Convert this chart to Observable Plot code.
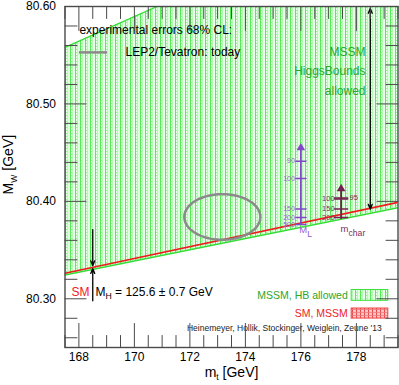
<!DOCTYPE html>
<html><head><meta charset="utf-8">
<script src="https://cdn.jsdelivr.net/npm/d3@7"></script>
<script src="https://cdn.jsdelivr.net/npm/@observablehq/plot@0.6"></script>
<style>
body{margin:0;background:#fff;}
#chart svg{display:block;}
</style></head><body><div id="chart"></div>
<script>
// ---- axes ----
const mtDomain = [167.5, 179.5];
const mwDomain = [80.25, 80.60];
const mtMajor = [168, 170, 172, 174, 176, 178];
const mtMinor = [167.5,168,168.5,169,169.5,170,170.5,171,171.5,172,172.5,173,173.5,174,174.5,175,175.5,176,176.5,177,177.5,178,178.5,179,179.5];
const mwMajor = [80.30, 80.40, 80.50, 80.60];
const mwMinor = [80.26,80.28,80.30,80.32,80.34,80.36,80.38,80.40,80.42,80.44,80.46,80.48,80.50,80.52,80.54,80.56,80.58,80.60];
const xTitle = ["m_{t} [GeV]"], xTitlePos = [173.5, 80.2246];
const yTitle = ["M_{W} [GeV]"], yTitlePos = [165.48, 80.4377];

// ---- bands (values at the two edges of the mt range) ----
const bandMt    = [167.5, 179.5];
const mssmUpper = [80.558, 80.710];
const mssmLower = [80.3245, 80.3935];
const smMw      = [80.3262, 80.3990];

// ---- Tevatron/LEP2 68% CL ellipse ----
const expCenter = {mt: 173.17, mw: 80.384};
const expRadius = {mt: 1.37, mw: 0.0234};

// ---- arrows ----
const hbArrowMt = 178.5, hbArrowMw = [80.50, 80.598, 80.392];      // mid, top, bottom
const smArrowMt = 168.5, smArrowDown = [80.371, 80.334], smArrowUp = [80.298, 80.331];

// ---- M_L scale (purple) ----
const mLMt = 176.0, mLLine = [80.376, 80.455];
const mLLabels = ["90", "100", "150", "200", "500"];
const mLMw = [80.4412, 80.4234, 80.3921, 80.3835, 80.3762];

// ---- m_char scale (dark red) ----
const mcMt = 177.45, mcLine = [80.3814, 80.413];
const mcLabelsLeft = ["100", "150", "200"];
const mcMwLeft = [80.4024, 80.3921, 80.3835];
const mcLabelsRight = ["95"];
const mcMwRight = [80.4034];

// ---- texts ----
const textExp = ["experimental errors 68% CL:"];
const textLep = ["LEP2/Tevatron: today"];
const textHB = ["MSSM", "HiggsBounds", "allowed"];
const textHBMw = [80.5536, 80.5337, 80.5134];
const legendLabels = ["MSSM, HB allowed", "SM, MSSM"];
const legendMw = [80.3031, 80.2848];
const legendBoxMw = [[80.3090, 80.2979], [80.2900, 80.2797]];
const credits = ["Heinemeyer, Hollik, Stockinger, Weiglein, Zeune '13"];

const FONT = '"Liberation Sans", Arial, Helvetica, sans-serif';
const green = "#2ba62b", red = "#ee1c1c", purple = "#8348c8", purpleTxt = "#9a5ccf", maroon = "#74204f", maroonTxt = "#7d2d5c";

const band = bandMt.map((mt, i) => ({mt, hi: mssmUpper[i], lo: mssmLower[i], sm: smMw[i]}));
const ellipse = d3.range(0, 121).map(k => {
  const t = 2 * Math.PI * k / 120;
  return {mt: expCenter.mt + expRadius.mt * Math.cos(t), mw: expCenter.mw + expRadius.mw * Math.sin(t)};
});

const tickShape = {draw(context, l) { context.moveTo(0, 0); context.lineTo(0, -l); }};
const tk = (data, x, y, len, rot, extra = {}) =>
  Plot.vector(data, {x, y, length: len, rotate: rot, anchor: "start", shape: tickShape, stroke: "#4a4a4a", strokeWidth: 1, ...extra});
const isMajorX = d => mtMajor.includes(d);
const isMajorY = d => mwMajor.some(v => Math.abs(v - d) < 1e-9);

const plot = Plot.plot({
  width: 399, height: 385,
  marginLeft: 64.5, marginRight: 1.5, marginTop: 6, marginBottom: 38,
  x: {domain: mtDomain},
  y: {domain: mwDomain},
  style: {fontFamily: FONT, fontSize: "12px", background: "white", color: "black"},
  marks: [
    Plot.area(band, {x1: "mt", y1: "lo", y2: "hi", fill: "url(#hbHatch)", clip: true}),
    Plot.line(band, {x: "mt", y: "hi", stroke: "#36dd36", strokeWidth: 1.2, clip: true}),
    Plot.line(band, {x: "mt", y: "lo", stroke: "#36dd36", strokeWidth: 1.6, clip: true}),
    Plot.line(band, {x: "mt", y: "sm", stroke: red, strokeWidth: 1.6, clip: true}),
    Plot.line(ellipse, {x: "mt", y: "mw", stroke: "#8a8a8a", strokeWidth: 2.5}),

    // right double arrow
    Plot.arrow([0, 1], {x1: () => hbArrowMt, x2: () => hbArrowMt, y1: () => hbArrowMw[0], y2: (d) => hbArrowMw[1 + d],
      stroke: "black", strokeWidth: 1.3, headLength: 6, headAngle: 45}),
    // SM arrows
    Plot.arrow([0], {x1: () => smArrowMt, x2: () => smArrowMt, y1: () => smArrowDown[0], y2: () => smArrowDown[1],
      stroke: "black", strokeWidth: 1.3, headLength: 6, headAngle: 45}),
    Plot.arrow([0], {x1: () => smArrowMt, x2: () => smArrowMt, y1: () => smArrowUp[0], y2: () => smArrowUp[1],
      stroke: "black", strokeWidth: 1.3, headLength: 6, headAngle: 45}),

    // M_L scale
    Plot.ruleX([mLMt], {y1: mLLine[0], y2: mLLine[1], stroke: purple, strokeWidth: 1.8}),
    Plot.dot([mLMt], {x: d => d, y: () => mLLine[1], symbol: "triangle", r: 3.2, fill: purple}),
    Plot.vector(mLMw, {x: () => mLMt, y: d => d, length: 10, rotate: 90, anchor: "middle", shape: tickShape, stroke: purple, strokeWidth: 1.5}),
    Plot.text(mLLabels, {x: () => mLMt, y: (d, i) => mLMw[i], text: d => d, textAnchor: "end", dx: -6, fontSize: 7, fill: purpleTxt}),
    Plot.text(["M_{L}"], {x: () => mLMt + 0.17, y: () => 80.3705, text: d => d, fontSize: 9.5, fill: purpleTxt}),

    // m_char scale
    Plot.ruleX([mcMt], {y1: mcLine[0], y2: mcLine[1], stroke: maroon, strokeWidth: 1.8}),
    Plot.dot([mcMt], {x: d => d, y: () => mcLine[1], symbol: "triangle", r: 3.2, fill: maroon}),
    Plot.vector(mcMwLeft.concat(mcMwRight), {x: () => mcMt, y: d => d, length: 13, rotate: 90, anchor: "middle", shape: tickShape, stroke: maroon, strokeWidth: 1.6}),
    Plot.text(mcLabelsLeft, {x: () => mcMt, y: (d, i) => mcMwLeft[i], text: d => d, textAnchor: "end", dx: -6.5, fontSize: 7.5, fill: maroonTxt}),
    Plot.text(mcLabelsRight, {x: () => mcMt, y: (d, i) => mcMwRight[i], text: d => d, textAnchor: "start", dx: 8.5, fontSize: 7.5, fill: maroonTxt}),
    Plot.text(["m_{char}"], {x: () => mcMt - 0.02, y: () => 80.3712, text: d => d, textAnchor: "start", fontSize: 9.5, fill: maroonTxt}),

    // experimental-errors legend
    Plot.text(textExp, {x: () => 168.02, y: () => 80.5753, text: d => d, textAnchor: "start", fontSize: 12}),
    Plot.ruleY([80.5529], {x1: 168.02, x2: 169.03, stroke: "#8a8a8a", strokeWidth: 2.5}),
    Plot.text(textLep, {x: () => 169.68, y: () => 80.5529, text: d => d, textAnchor: "start", fontSize: 12}),

    // HB allowed label
    Plot.text(textHB, {x: () => 178.33, y: (d, i) => textHBMw[i], text: d => d, textAnchor: "end", fontSize: 12, fill: green}),

    // SM label
    Plot.text(["SM"], {x: () => 167.73, y: () => 80.3072, text: d => d, textAnchor: "start", fontSize: 12, fill: red}),
    Plot.text(["M_{H} = 125.6 ± 0.7 GeV"], {x: () => 168.6, y: () => 80.3072, text: d => d, textAnchor: "start", fontSize: 12}),

    // bottom-right legend
    Plot.rect([0], {x1: 177.83, x2: 179.15, y1: () => legendBoxMw[0][0], y2: () => legendBoxMw[0][1], fill: "url(#hbHatch)", stroke: "#3ee03e", strokeWidth: 1}),
    Plot.rect([0], {x1: 177.83, x2: 179.15, y1: () => legendBoxMw[1][0], y2: () => legendBoxMw[1][1], fill: "url(#smHatch)", stroke: "#ef4040", strokeWidth: 1}),
    Plot.text(legendLabels, {x: () => 177.69, y: (d, i) => legendMw[i], text: d => d, textAnchor: "end", fontSize: 10.5, fill: (d, i) => i === 0 ? green : red}),
    Plot.text(credits, {x: () => 178.91, y: () => 80.2696, text: d => d, textAnchor: "end", fontSize: 8.5, fill: "#222"}),

    // ticks (inward, all four sides)
    tk(mtMinor, d => d, () => mwDomain[0], d => isMajorX(d) ? 8 : 4, 0),
    tk(mtMinor, d => d, () => mwDomain[1], d => isMajorX(d) ? 8 : 4, 180),
    tk(mwMinor, () => mtDomain[0], d => d, d => isMajorY(d) ? 7 : 4, 90),
    tk(mwMinor, () => mtDomain[1], d => d, d => isMajorY(d) ? 7 : 4, -90),

    Plot.frame({stroke: "#4a4a4a", strokeWidth: 1.4}),
    Plot.axisX({ticks: mtMajor, tickSize: 0, tickPadding: 5, label: null, fontSize: 12}),
    Plot.axisY({ticks: mwMajor, tickSize: 0, tickPadding: 9, tickFormat: d3.format(".2f"), label: null, fontSize: 12}),
    Plot.text(xTitle, {x: () => xTitlePos[0], y: () => xTitlePos[1], text: d => d, lineAnchor: "middle", fontSize: 14}),
    Plot.text(yTitle, {x: () => yTitlePos[0], y: () => yTitlePos[1], text: d => d, rotate: -90, lineAnchor: "middle", fontSize: 14})
  ]
});

// patterns
const svg = d3.select(plot);
const defs = svg.insert("defs", ":first-child");
const pg = defs.append("pattern").attr("id", "hbHatch").attr("patternUnits", "userSpaceOnUse").attr("width", 5).attr("height", 3);
pg.append("rect").attr("width", 5).attr("height", 3).attr("fill", "#eafdea");
pg.append("rect").attr("x", 0).attr("width", 1).attr("height", 3).attr("fill", "#52ec52");
pg.append("rect").attr("x", 2.2).attr("width", 0.9).attr("height", 3).attr("fill", "#acf6ac");
pg.append("rect").attr("x", 1).attr("y", 1).attr("width", 1.2).attr("height", 1).attr("fill", "#9af39a");
const pr = defs.append("pattern").attr("id", "smHatch").attr("patternUnits", "userSpaceOnUse").attr("width", 4).attr("height", 3);
pr.append("rect").attr("width", 4).attr("height", 3).attr("fill", "#f8c8c8");
pr.append("rect").attr("x", 0).attr("width", 1).attr("height", 3).attr("fill", "#ea4848");
pr.append("rect").attr("y", 0).attr("width", 4).attr("height", 0.8).attr("fill", "#f07a7a");

// subscripts: "_{...}"
svg.selectAll("text").each(function() {
  const targets = this.querySelector("tspan") ? Array.from(this.querySelectorAll("tspan")) : [this];
  const fs = parseFloat(getComputedStyle(this).fontSize) || 12;
  for (const t of targets) {
    const s = t.textContent;
    if (!s.includes("_{")) continue;
    t.textContent = "";
    const parts = s.split(/_\{([^}]*)\}/);
    parts.forEach((p, i) => {
      if (p === "") return;
      const ts = document.createElementNS("http://www.w3.org/2000/svg", "tspan");
      ts.textContent = p;
      if (i % 2 === 1) { ts.setAttribute("dy", (0.3 * fs).toFixed(2)); ts.setAttribute("font-size", (0.72 * fs).toFixed(2)); }
      else if (i > 0) { ts.setAttribute("dy", (-0.3 * fs).toFixed(2)); }
      t.appendChild(ts);
    });
  }
});

document.getElementById("chart").appendChild(plot);
</script></body></html>
